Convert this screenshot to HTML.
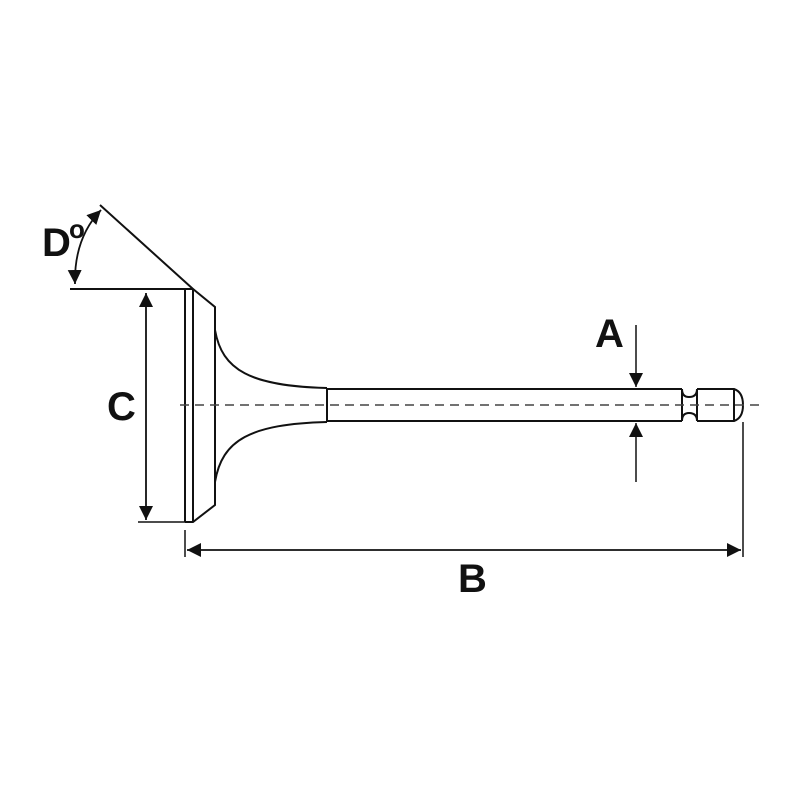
<!DOCTYPE html>
<html><head><style>body{margin:0;background:#fff}svg{display:block}</style></head><body>
<svg width="800" height="800" viewBox="0 0 800 800" xmlns="http://www.w3.org/2000/svg">
<defs><marker id="ar" viewBox="0 0 10 10" refX="10" refY="5" markerWidth="14" markerHeight="14" markerUnits="userSpaceOnUse" orient="auto-start-reverse"><path d="M0,0L10,5L0,10z" fill="#111"/></marker></defs>
<g fill="none" stroke="#111" stroke-width="2">
<path d="M185,289 L185,522 M193,289 L193,522 M185,289 L193,289 L215,307 L215,505 L193,522 L185,522"/>
<path d="M215,330 C222,370 250,386 327,388"/>
<path d="M215,482 C222,440 250,424 327,422"/>
<path d="M327,388 L327,422"/>
<path d="M327,389 L682,389 M327,421 L682,421"/>
<path d="M682,389 L682,421 M697,389 L697,421"/>
<path d="M682,389 Q682,397 689,397 Q697,397 697,389"/>
<path d="M682,421 Q682,413 689,413 Q697,413 697,421"/>
<path d="M697,389 L734,389 Q743,392 743,405 Q743,418 734,421 L697,421 M734,389 L734,421"/>
<path d="M180,405 L760,405" stroke-width="1.5" stroke-dasharray="9,6" stroke="#444"/>
<path d="M100,205 L193,289 M70,289 L193,289"/>
<path d="M75,284 Q74,238 101,210" marker-end="url(#ar)" marker-start="url(#ar)" stroke-width="1.8"/>
<path d="M146,293 L146,520" marker-start="url(#ar)" marker-end="url(#ar)" stroke-width="1.8"/>
<path d="M138,522 L185,522" stroke-width="1.5"/>
<path d="M185,530 L185,557 M743,422 L743,557" stroke-width="1.5"/>
<path d="M187,550 L741,550" marker-start="url(#ar)" marker-end="url(#ar)" stroke-width="1.8"/>
<path d="M636,325 L636,387" marker-end="url(#ar)" stroke-width="1.5"/>
<path d="M636,482 L636,423" marker-end="url(#ar)" stroke-width="1.5"/>
</g>
<g font-family="Liberation Sans, sans-serif" font-weight="bold" fill="#111">
<text x="42" y="256" font-size="40">D</text>
<text x="69" y="238" font-size="26">o</text>
<text x="107" y="420" font-size="40">C</text>
<text x="595" y="347" font-size="40">A</text>
<text x="458" y="592" font-size="40">B</text>
</g>
</svg>
</body></html>
